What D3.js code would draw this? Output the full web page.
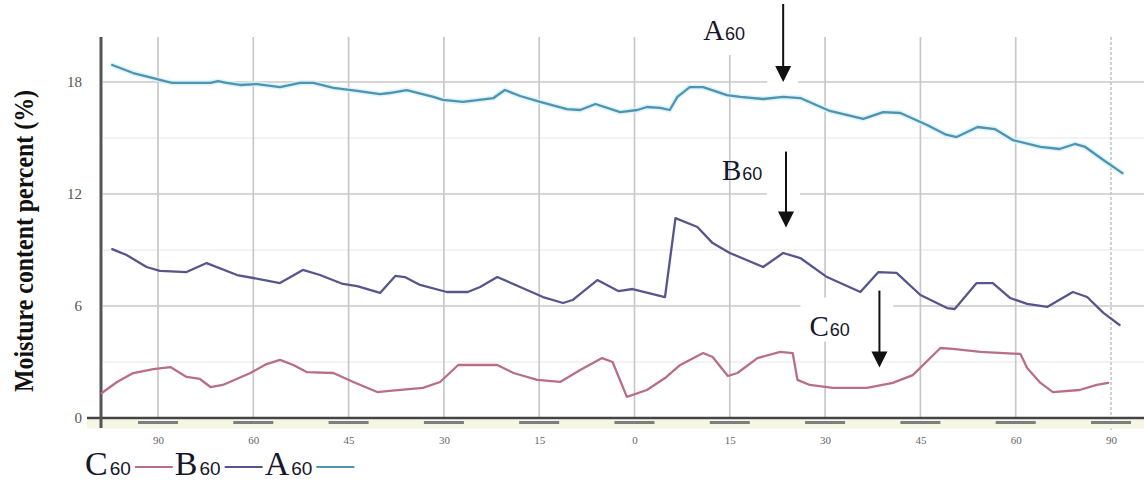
<!DOCTYPE html>
<html>
<head>
<meta charset="utf-8">
<script src="https://cdn.jsdelivr.net/npm/d3@7"></script>
<style>
  body { margin: 0; background: #fff; }
  svg { display: block; }
</style>
</head>
<body>
<svg id="chart" width="1144" height="484"></svg>
<script>
// ---- data ---------------------------------------------------------------
// x positions run 0..100 between the first and last labelled tick
const tickLabels = ["90", "60", "45", "30", "15", "0", "15", "30", "45", "60", "90"];
const yTicks = [0, 6, 12, 18];
const yMinorTicks = [3, 9, 15];

// moisture content (%) for the three samples, [position, value]
const seriesA = [
  [-4.8, 18.91], [-2.6, 18.48], [-0.5, 18.21], [0.7, 18.05], [1.5, 17.95],
  [5.5, 17.95], [6.3, 18.05], [7.2, 17.95], [8.6, 17.84], [10.4, 17.89],
  [12.8, 17.73], [14.9, 17.95], [16.3, 17.95], [18.4, 17.68], [20.9, 17.52],
  [23.3, 17.35], [24.3, 17.41], [26.1, 17.57], [28.9, 17.20], [29.9, 17.04],
  [32.0, 16.93], [35.2, 17.14], [36.4, 17.57], [38.0, 17.25], [40.1, 16.93],
  [42.9, 16.55], [44.3, 16.50], [45.9, 16.82], [48.5, 16.39], [50.3, 16.50],
  [51.3, 16.66], [52.7, 16.61], [53.7, 16.50], [54.5, 17.20], [55.8, 17.73],
  [57.2, 17.73], [59.7, 17.30], [61.1, 17.20], [63.5, 17.09], [65.6, 17.20],
  [67.4, 17.14], [70.5, 16.45], [74.0, 16.02], [76.1, 16.39], [77.9, 16.34],
  [80.7, 15.70], [82.6, 15.20], [83.8, 15.05], [86.0, 15.59], [87.8, 15.48],
  [89.7, 14.89], [92.6, 14.52], [94.6, 14.41], [96.2, 14.68], [97.3, 14.52],
  [99.2, 13.82], [101.2, 13.12]
];
const seriesB = [
  [-4.8, 9.05], [-3.3, 8.73], [-1.2, 8.09], [0.2, 7.88], [3.0, 7.82],
  [5.1, 8.30], [8.3, 7.66], [10.0, 7.50], [12.8, 7.23], [15.2, 7.93],
  [17.0, 7.66], [19.4, 7.18], [20.9, 7.07], [23.3, 6.70], [24.9, 7.61],
  [25.9, 7.55], [27.5, 7.13], [30.3, 6.75], [32.5, 6.75], [33.8, 7.02],
  [35.6, 7.55], [38.0, 7.02], [40.4, 6.48], [42.5, 6.16], [43.5, 6.32],
  [46.1, 7.39], [48.3, 6.80], [49.8, 6.91], [53.2, 6.48], [54.3, 10.71],
  [56.6, 10.23], [58.2, 9.37], [60.0, 8.84], [63.5, 8.09], [65.6, 8.84],
  [67.4, 8.57], [70.2, 7.55], [73.7, 6.75], [75.6, 7.82], [77.5, 7.77],
  [80.0, 6.59], [82.8, 5.89], [83.6, 5.84], [85.9, 7.23], [87.6, 7.23],
  [89.4, 6.43], [91.2, 6.11], [93.3, 5.95], [96.0, 6.75], [97.5, 6.48],
  [99.2, 5.63], [100.9, 4.98]
];
const seriesC = [
  [-5.9, 1.34], [-4.3, 1.93], [-2.6, 2.41], [-0.5, 2.62], [1.3, 2.73],
  [3.0, 2.20], [4.4, 2.09], [5.5, 1.66], [6.8, 1.77], [9.7, 2.41],
  [11.4, 2.89], [12.8, 3.11], [14.2, 2.84], [15.6, 2.46], [18.4, 2.41],
  [20.5, 1.93], [23.0, 1.39], [24.3, 1.45], [27.8, 1.61], [29.6, 1.93],
  [31.5, 2.84], [35.6, 2.84], [37.3, 2.41], [39.8, 2.04], [42.2, 1.93],
  [44.3, 2.57], [46.6, 3.21], [47.7, 3.00], [49.2, 1.13], [51.3, 1.50],
  [53.2, 2.14], [54.8, 2.84], [57.2, 3.48], [58.2, 3.27], [59.8, 2.25],
  [60.8, 2.41], [62.9, 3.21], [65.3, 3.54], [66.6, 3.48], [67.1, 2.04],
  [68.4, 1.77], [70.8, 1.61], [74.4, 1.61], [77.1, 1.88], [79.2, 2.30],
  [82.1, 3.75], [83.4, 3.70], [86.3, 3.54], [90.5, 3.43], [91.2, 2.68],
  [92.6, 1.88], [93.9, 1.39], [96.7, 1.50], [98.5, 1.77], [99.7, 1.88]
];

const seriesNames = ["C", "B", "A"];
const seriesSub = "60";
const seriesColors = { A: "#4f93ae", B: "#56558c", C: "#b96e88" };
const seriesData = { A: seriesA, B: seriesB, C: seriesC };

// arrow tips for the callouts, in data units
const callouts = [
  { name: "A", tip: [65.6, 18.0], len: 78, tx: -80, ty: -42,
    boxes: [[-88, -20, -76, -27], [-16, 15, -82, 10]] },
  { name: "B", tip: [65.9, 10.2], len: 76, tx: -64, ty: -48,
    boxes: [[-19, 14, -78, 2]] },
  { name: "C", tip: [75.7, 2.7], len: 77, tx: -70, ty: -32,
    boxes: [[-79, 14, -70, -26]] }
];

// ---- scales -------------------------------------------------------------
const svg = d3.select("#chart");
const serif = "'Liberation Serif', 'Times New Roman', serif";
const sans = "'Liberation Sans', Arial, sans-serif";

const x = d3.scaleLinear().domain([0, 100]).range([158, 1111]);
const y = d3.scaleLinear().domain([0, 18]).range([418, 82]);
const tickPos = d3.range(0, 101, 10);

const plotLeft = 101, plotRight = 1144, plotTop = 37, baseY = y(0);

// ---- grid ---------------------------------------------------------------
const grid = svg.append("g");
grid.selectAll("line.minor").data(yMinorTicks).join("line")
  .attr("class", "minor")
  .attr("x1", plotLeft + 2).attr("x2", plotRight)
  .attr("y1", d => y(d)).attr("y2", d => y(d))
  .attr("stroke", "#efefef").attr("stroke-width", 1.5);

grid.selectAll("line.h").data(yTicks.filter(d => d > 0)).join("line")
  .attr("class", "h")
  .attr("x1", plotLeft + 2).attr("x2", plotRight)
  .attr("y1", d => y(d)).attr("y2", d => y(d))
  .attr("stroke", "#c8c8c8").attr("stroke-width", 1.7);

grid.selectAll("line.v").data(tickPos).join("line")
  .attr("class", "v")
  .attr("x1", d => x(d)).attr("x2", d => x(d))
  .attr("y1", plotTop)
  .attr("y2", (d, i) => i === tickPos.length - 1 ? baseY + 12 : baseY)
  .attr("stroke", "#c8c8c8").attr("stroke-width", 1.7)
  .attr("stroke-dasharray", (d, i) => i === tickPos.length - 1 ? "3,2" : null);

// white label backgrounds for the callouts
const bg = svg.append("g");
callouts.forEach(c => {
  const px = x(c.tip[0]), py = y(c.tip[1]);
  c.boxes.forEach(b => {
    bg.append("rect")
      .attr("x", px + b[0]).attr("y", py + b[2])
      .attr("width", b[1] - b[0]).attr("height", b[3] - b[2])
      .attr("fill", "#fff");
  });
});

// ---- axes ---------------------------------------------------------------
svg.append("rect")
  .attr("x", 87).attr("y", baseY + 1.5).attr("width", plotRight - 87).attr("height", 9)
  .attr("fill", "#f5f7e3");

svg.append("g").selectAll("rect").data(tickPos).join("rect")
  .attr("x", d => x(d) - 20).attr("y", baseY + 3)
  .attr("width", 40).attr("height", 3)
  .attr("fill", "#7e7e7e");

svg.append("line")
  .attr("x1", 87).attr("x2", plotRight)
  .attr("y1", baseY).attr("y2", baseY)
  .attr("stroke", "#444").attr("stroke-width", 2.5);

svg.append("line")
  .attr("x1", plotLeft).attr("x2", plotLeft)
  .attr("y1", plotTop).attr("y2", baseY + 10)
  .attr("stroke", "#555").attr("stroke-width", 3);

const yAxis = svg.append("g")
  .attr("transform", `translate(${plotLeft},0)`)
  .call(d3.axisLeft(y).tickValues(yTicks).tickSize(0).tickPadding(19));
yAxis.select(".domain").remove();
yAxis.selectAll("text")
  .attr("font-family", serif).attr("font-size", 15).attr("fill", "#555");

const xAxis = svg.append("g")
  .attr("transform", `translate(0,${baseY})`)
  .call(d3.axisBottom(x).tickValues(tickPos)
    .tickFormat((d, i) => tickLabels[i]).tickSize(0).tickPadding(18));
xAxis.select(".domain").remove();
xAxis.selectAll("text")
  .attr("font-family", serif).attr("font-size", 11).attr("fill", "#666");

svg.append("text")
  .attr("transform", "translate(33,241) rotate(-90)")
  .attr("text-anchor", "middle")
  .attr("font-family", serif).attr("font-weight", "bold")
  .attr("font-size", 28).attr("fill", "#111")
  .attr("textLength", 302).attr("lengthAdjust", "spacingAndGlyphs")
  .text("Moisture content percent (%)");

// ---- series -------------------------------------------------------------
const line = d3.line().x(d => x(d[0])).y(d => y(d[1]));
const lines = svg.append("g").attr("fill", "none")
  .attr("stroke-linejoin", "round").attr("stroke-linecap", "round");

lines.append("path").datum(seriesA).attr("d", line)
  .attr("stroke", "#d6f2fb").attr("stroke-width", 5.5).attr("opacity", 0.8);

["C", "B", "A"].forEach(k => {
  lines.append("path").datum(seriesData[k]).attr("d", line)
    .attr("stroke", seriesColors[k]).attr("stroke-width", 2.3);
});

// ---- callouts -----------------------------------------------------------
const ann = svg.append("g").attr("fill", "#16162a");
callouts.forEach(c => {
  const px = x(c.tip[0]), py = y(c.tip[1]);
  ann.append("line")
    .attr("x1", px).attr("x2", px)
    .attr("y1", py - c.len).attr("y2", py - 14)
    .attr("stroke", "#111").attr("stroke-width", 2);
  ann.append("path")
    .attr("d", `M${px - 8},${py - 16}L${px + 8},${py - 16}L${px},${py}Z`)
    .attr("fill", "#111");
  const t = ann.append("text").attr("x", px + c.tx).attr("y", py + c.ty);
  t.append("tspan").attr("font-family", serif).attr("font-size", 29).text(c.name);
  t.append("tspan").attr("font-family", sans).attr("font-size", 18)
    .attr("dx", 1).text(seriesSub);
});

// ---- legend -------------------------------------------------------------
const legend = svg.append("g");
let cursor = 85;
const legendY = 475;
seriesNames.forEach((k, i) => {
  const t = legend.append("text").attr("x", cursor).attr("y", legendY).attr("fill", "#16162a");
  t.append("tspan").attr("font-family", serif).attr("font-size", 34).text(k);
  t.append("tspan").attr("font-family", sans).attr("font-size", 19)
    .attr("dx", 2).text(seriesSub);
  const w = t.node().getComputedTextLength();
  const x0 = cursor + w + 6;
  legend.append("line")
    .attr("x1", x0).attr("x2", x0 + 38)
    .attr("y1", legendY - 8).attr("y2", legendY - 8)
    .attr("stroke", seriesColors[k]).attr("stroke-width", 2);
  cursor = x0 + 40;
});
</script>
</body>
</html>
